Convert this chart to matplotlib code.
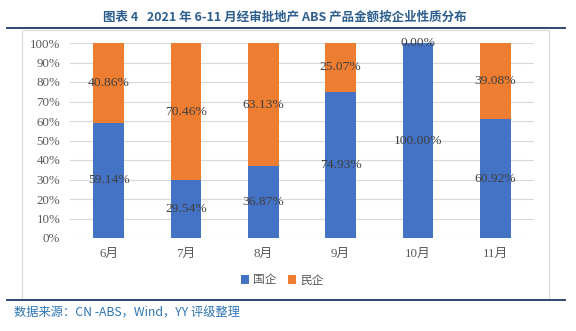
import matplotlib.pyplot as plt
from matplotlib.lines import Line2D
from matplotlib.patches import Rectangle
import numpy as np

# 月份
months = ["6月", "7月", "8月", "9月", "10月", "11月"]
# 国企占比 (%)
soe = [59.14, 29.54, 36.87, 74.93, 100.00, 60.92]
# 民企占比 (%)
private = [40.86, 70.46, 63.13, 25.07, 0.00, 39.08]

blue = "#4472C4"
orange = "#ED7D31"
navy = "#1F3864"
serif = ["Liberation Serif", "Noto Sans CJK SC"]
cjk = ["Noto Sans CJK SC", "DejaVu Sans"]

fig = plt.figure(figsize=(5.76, 3.31), dpi=100)

# 标题和分隔线
fig.text(0.495, 0.948, "图表 4   2021 年 6-11 月经审批地产 ABS 产品金额按企业性质分布",
         ha="center", va="center", fontsize=9, fontweight="bold",
         color="#2E5E8E", family=cjk)
fig.add_artist(Line2D([7 / 576, 565 / 576], [1 - 28 / 331] * 2, color=navy, lw=1.3))
fig.add_artist(Line2D([7 / 576, 565 / 576], [1 - 300 / 331] * 2, color=navy, lw=1.3))
# 图表外框
fig.add_artist(Rectangle((22 / 576, 1 - 299 / 331), (549 - 22) / 576, (299 - 30) / 331,
                         fill=False, edgecolor="#D9D9D9", lw=0.8))

ax = fig.add_axes([70 / 576, 1 - 238 / 331, (534 - 70) / 576, (238 - 43) / 331])
x = np.arange(len(months))
s = np.array(soe) / 100
p = np.array(private) / 100
ax.bar(x, s, width=0.4, color=blue, label="国企", zorder=3)
ax.bar(x, p, width=0.4, bottom=s, color=orange, label="民企", zorder=3)

for i in range(len(months)):
    ax.text(x[i], s[i] / 2, f"{soe[i]:.2f}%", ha="center", va="center",
            fontsize=9.7, color="#404040", family=serif, zorder=4)
    ax.text(x[i], s[i] + p[i] / 2, f"{private[i]:.2f}%", ha="center", va="center",
            fontsize=9.7, color="#404040", family=serif, zorder=4)

ax.set_xlim(-0.5, len(months) - 0.5)
ax.set_ylim(0, 1)
ax.set_yticks(np.arange(0, 1.01, 0.1))
ax.set_yticklabels([f"{int(round(v * 100))}%" for v in np.arange(0, 1.01, 0.1)])
ax.set_xticks(x)
ax.set_xticklabels(months)
for lab in ax.get_xticklabels() + ax.get_yticklabels():
    lab.set_family(serif)
    lab.set_fontsize(9.3)
    lab.set_color("#595959")
ax.tick_params(length=0, pad=7)
ax.grid(axis="y", color="#D9D9D9", lw=0.8, zorder=0)
for sp in ax.spines.values():
    sp.set_visible(False)

ax.legend(loc="center", bbox_to_anchor=(0.49, 1 - 280 / 331), bbox_transform=fig.transFigure,
          ncol=2, frameon=False, prop={"family": cjk, "size": 8.5},
          handlelength=0.7, handleheight=0.7, handletextpad=0.3, columnspacing=1.0,
          labelcolor="#595959")

# 数据来源
fig.text(14 / 576, 1 - 313 / 331, "数据来源：CN -ABS，Wind，YY 评级整理",
         ha="left", va="center", fontsize=8.8, color="#2E75B6", family=cjk)

fig.savefig("out.png", dpi=100)
